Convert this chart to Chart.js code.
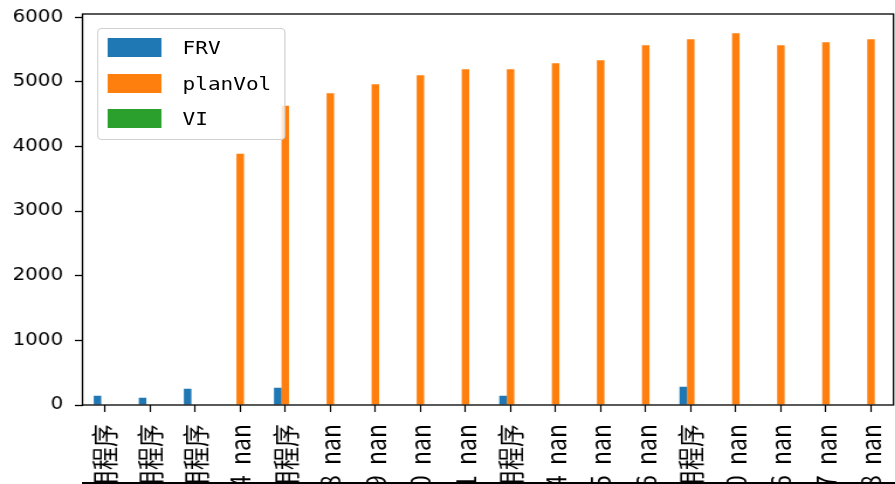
<!DOCTYPE html>
<html>
<head>
<meta charset="utf-8">
<script src="https://cdn.jsdelivr.net/npm/chart.js@4"></script>
<style>
    html, body { margin: 0; padding: 0; background: #fff; overflow: hidden; }
    #wrap {
        position: absolute; left: 0; top: 0;
        width: 765px; height: 620px;
        transform: scaleX(1.17); transform-origin: 0 0;
    }
    #legend {
        position: absolute; left: 83px; top: 28px;
        width: 161px; height: 112px;
        box-sizing: border-box;
        border: 1px solid #d0d0d0; border-radius: 4px;
        background: rgba(255,255,255,0.8);
        padding: 9px 0 0 8px;
        font-family: "DejaVu Sans Mono", monospace; font-size: 18px;
    }
    .row { height: 35.5px; display: flex; align-items: flex-start; }
    .patch { width: 46px; height: 19px; margin-right: 18px; }
    .row span { line-height: 19px; }
    #lowerAxis {
        position: absolute; left: 82px; top: 482px; width: 813px;
        border-top: 2px solid #000;
    }
</style>
</head>
<body>
<div id="wrap">
    <canvas id="chart" width="765" height="620"></canvas>
    <div id="legend"></div>
</div>
<div id="lowerAxis"></div>

<script>
// chart data
const etiquetas = [
    '1号应用程序', '2号应用程序', '3号应用程序', 'FV1004  nan', '4号应用程序',
    'FV1008  nan', 'FV1009  nan', 'FV1010  nan', 'FV1011  nan', '5号应用程序',
    'FV1014  nan', 'FV1015  nan', 'FV1016  nan', '6号应用程序', 'FV1020  nan',
    'FV1026  nan', 'FV1027  nan', 'FV1028  nan'
];

const frv = [144, 113, 252, null, 267, null, null, null, null, 144,
    null, null, null, 283, null, null, null, null];

const planVol = [null, null, null, 3887, 4628, 4823, 4962, 5101, 5194, 5194,
    5287, 5334, 5564, 5657, 5750, 5564, 5611, 5657];

const vi = [null, null, null, null, null, null, null, null, null, null,
    null, null, null, null, null, null, null, null];

const yTicks = [0, 1000, 2000, 3000, 4000, 5000, 6000];

const yFont = { family: '"DejaVu Sans", sans-serif', size: 17 };
const xFont = { family: '"Noto Sans CJK SC", "DejaVu Sans", sans-serif', size: 23 };

// frame around the plot area (all four spines)
const spines = {
    id: 'spines',
    afterDraw(chart) {
        const a = chart.chartArea;
        const c = chart.ctx;
        c.save();
        c.strokeStyle = '#000';
        c.lineWidth = 1.3;
        c.strokeRect(a.left, a.top, a.right - a.left, a.bottom - a.top);
        c.restore();
    }
};

const ctx = document.getElementById('chart');

const grafico = new Chart(ctx, {
    type: 'bar',
    data: {
        labels: etiquetas,
        datasets: [
            { label: 'FRV', data: frv, backgroundColor: '#1f77b4' },
            { label: 'planVol', data: planVol, backgroundColor: '#ff7f0e' },
            { label: 'VI', data: vi, backgroundColor: '#2ca02c' }
        ]
    },
    options: {
        responsive: false,
        animation: false,
        devicePixelRatio: 1,
        categoryPercentage: 0.5,
        barPercentage: 1.0,
        layout: { padding: { top: 14, right: 1.3, left: 0, bottom: 0 } },
        plugins: {
            legend: { display: false },
            tooltip: { enabled: false }
        },
        scales: {
            x: {
                offset: true,
                grid: {
                    offset: false,
                    drawOnChartArea: false,
                    drawTicks: true,
                    tickLength: 7,
                    tickColor: '#000',
                    tickWidth: 1.2
                },
                border: { display: false },
                ticks: {
                    autoSkip: false,
                    maxRotation: 90,
                    minRotation: 90,
                    padding: 12,
                    color: '#000',
                    font: xFont
                },
                afterFit(scale) {
                    scale.height = 215;
                    scale.paddingLeft = 0;
                    scale.paddingRight = 0;
                }
            },
            y: {
                min: 0,
                max: 6048,
                afterBuildTicks(scale) {
                    scale.ticks = yTicks.map(v => ({ value: v }));
                },
                grid: {
                    drawOnChartArea: false,
                    drawTicks: true,
                    tickLength: 6.5,
                    tickColor: '#000',
                    tickWidth: 1.3
                },
                border: { display: false },
                ticks: {
                    padding: 10,
                    color: '#000',
                    font: yFont,
                    callback: v => String(v)
                },
                afterFit(scale) {
                    scale.width = 70.5;
                    scale.paddingTop = 0;
                    scale.paddingBottom = 0;
                }
            }
        }
    },
    plugins: [spines]
});

// legend box inside the axes
const legend = document.getElementById('legend');
grafico.data.datasets.forEach(ds => {
    legend.innerHTML += `
        <div class="row">
            <div class="patch" style="background:${ds.backgroundColor}"></div>
            <span>${ds.label}</span>
        </div>
    `;
});
</script>
</body>
</html>
